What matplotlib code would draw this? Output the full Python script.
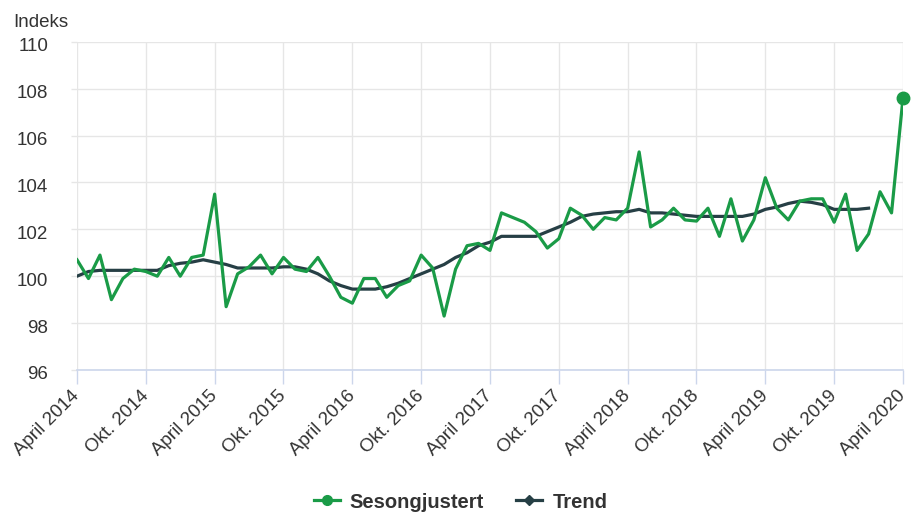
import numpy as np
import matplotlib.pyplot as plt
import matplotlib.transforms as mtransforms
from matplotlib.lines import Line2D

plt.rcParams['font.family'] = ['Liberation Sans', 'DejaVu Sans']

# monthly index, April 2014 .. April 2020
sesongjustert = [100.7, 99.9, 100.9, 99.0, 99.9, 100.3, 100.2, 100.0, 100.8, 100.0,
                 100.8, 100.9, 103.5, 98.7, 100.1, 100.4, 100.9, 100.1, 100.8, 100.3,
                 100.2, 100.8, 100.0, 99.1, 98.85, 99.9, 99.9, 99.1, 99.6, 99.8,
                 100.9, 100.35, 98.3, 100.3, 101.3, 101.4, 101.1, 102.7, 102.5, 102.3,
                 101.9, 101.2, 101.6, 102.9, 102.6, 102.0, 102.5, 102.4, 102.9, 105.3,
                 102.1, 102.4, 102.9, 102.4, 102.35, 102.9, 101.7, 103.3, 101.5, 102.4,
                 104.2, 102.9, 102.4, 103.2, 103.3, 103.3, 102.3, 103.5, 101.1, 101.8,
                 103.6, 102.7, 107.6]
trend = [100.0, 100.2, 100.25, 100.25, 100.25, 100.25, 100.25, 100.25, 100.45, 100.55,
         100.6, 100.7, 100.6, 100.5, 100.35, 100.35, 100.35, 100.35, 100.4, 100.4,
         100.3, 100.1, 99.8, 99.6, 99.45, 99.45, 99.45, 99.55, 99.7, 99.9,
         100.1, 100.3, 100.5, 100.8, 101.0, 101.3, 101.45, 101.7, 101.7, 101.7,
         101.7, 101.9, 102.1, 102.3, 102.55, 102.65, 102.7, 102.75, 102.75, 102.85,
         102.7, 102.7, 102.65, 102.6, 102.55, 102.55, 102.55, 102.55, 102.55, 102.65,
         102.85, 102.95, 103.1, 103.2, 103.15, 103.05, 102.85, 102.85, 102.85, 102.9]
tick_labels = ["April 2014", "Okt. 2014", "April 2015", "Okt. 2015", "April 2016",
               "Okt. 2016", "April 2017", "Okt. 2017", "April 2018", "Okt. 2018",
               "April 2019", "Okt. 2019", "April 2020"]

GREEN = "#1a9b47"
DARK = "#263f45"
TXT = "#333333"
AXIS = "#ccd6eb"
GRID = "#e6e6e6"

fig = plt.figure(figsize=(9.12, 5.13), dpi=100)
ax = fig.add_axes([77 / 912, 1 - 370 / 513, 826 / 912, 328.3 / 513])

x_s = np.arange(len(sesongjustert))
x_t = np.arange(len(trend))
ax.plot(x_t, trend, color=DARK, lw=2.3, zorder=3)
ax.plot(x_s, sesongjustert, color=GREEN, lw=2.3, zorder=4)
ax.plot(x_s[-1], sesongjustert[-1], 'o', color=GREEN, ms=9, zorder=5, clip_on=False)

ax.set_xlim(0, 72)
ax.set_ylim(96, 110)
ax.set_yticks(range(96, 111, 2))
ax.set_xticks(range(0, 73, 6))
ax.set_xticklabels(tick_labels, rotation=45, ha='right', va='center', rotation_mode='anchor')

ax.grid(True, color=GRID, lw=1)
ax.set_axisbelow(True)
for s in ['top', 'right', 'left']:
    ax.spines[s].set_visible(False)
ax.spines['bottom'].set_color(AXIS)
ax.spines['bottom'].set_linewidth(1.2)
ax.tick_params(axis='y', length=4.3, width=1, color=GRID, pad=16.5,
               labelsize=13.5, labelcolor=TXT)
ax.get_yticklines()[0].set_color(AXIS)
ax.tick_params(axis='x', length=10, color=AXIS, width=1, pad=6.5,
               labelsize=13.5, labelcolor=TXT)

# y labels sit a little below their grid lines
shift = mtransforms.ScaledTranslation(0, -3 / 100, fig.dpi_scale_trans)
for lab in ax.get_yticklabels():
    lab.set_transform(lab.get_transform() + shift)

fig.text(13 / 912, 1 - 27 / 513, "Indeks", fontsize=13.5, color=TXT, va='baseline')

handles = [Line2D([], [], color=GREEN, lw=2.3, marker='o', ms=7),
           Line2D([], [], color=DARK, lw=2.3, marker='D', ms=5)]
fig.legend(handles, ["Sesongjustert", "Trend"], loc='center', bbox_to_anchor=(0.505, 1 - 502 / 513),
           ncol=2, frameon=False, prop={'weight': 'bold', 'size': 14.5}, handlelength=1.3,
           handletextpad=0.5, columnspacing=1.6, labelcolor=TXT)

fig.savefig("out.png", dpi=100)
